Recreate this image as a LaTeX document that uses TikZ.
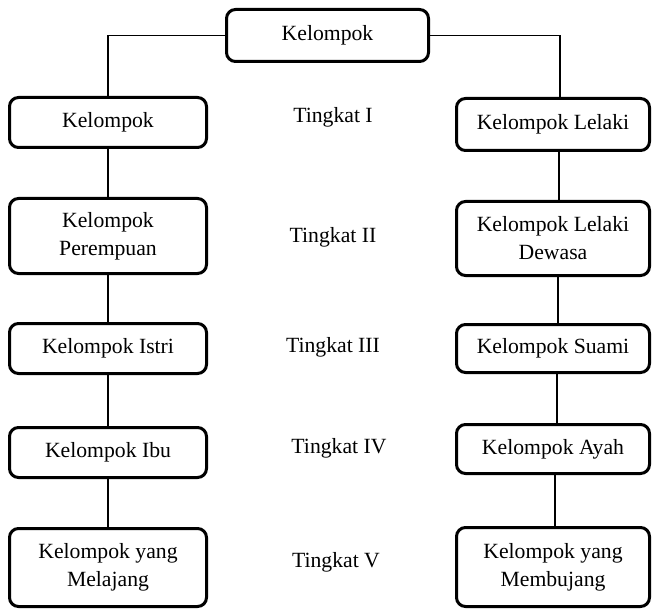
\documentclass[tikz,border=0pt]{standalone}
\usepackage{fontspec}
\setmainfont{Liberation Serif}
\begin{document}
\begin{tikzpicture}[x=1pt,y=-1pt,
  box/.style={draw, line width=3pt, rounded corners=9pt, inner sep=0pt, align=center,
    font=\fontsize{21.7}{28}\selectfont},
  lbl/.style={inner sep=0pt, font=\fontsize{21.7}{28}\selectfont},
  conn/.style={line width=1.2pt}]
\useasboundingbox (0,0) rectangle (652,609);
% top
\node[box, minimum width=202pt, minimum height=52pt] (top) at (327.5,35.5) {Kelompok};
% left column
\node[box, minimum width=197pt, minimum height=50pt] (L1) at (108,122.5) {Kelompok};
\node[box, minimum width=197pt, minimum height=75pt] (L2) at (108,236) {Kelompok\\Perempuan};
\node[box, minimum width=197pt, minimum height=50pt] (L3) at (108,348.5) {Kelompok Istri};
\node[box, minimum width=197pt, minimum height=50pt] (L4) at (108,452.5) {Kelompok Ibu};
\node[box, minimum width=197pt, minimum height=78pt] (L5) at (108,567.5) {Kelompok yang\\Melajang};
% right column
\node[box, minimum width=193pt, minimum height=52pt] (R1) at (553,124.5) {Kelompok Lelaki};
\node[box, minimum width=193pt, minimum height=74pt] (R2) at (553,238.5) {Kelompok Lelaki\\Dewasa};
\node[box, minimum width=193pt, minimum height=48pt] (R3) at (553,348.5) {Kelompok Suami};
\node[box, minimum width=193pt, minimum height=49pt] (R4) at (553,449) {Kelompok Ayah};
\node[box, minimum width=193pt, minimum height=79pt] (R5) at (553,567) {Kelompok yang\\Membujang};
% levels
\node[lbl] (t1) at (333,117) {Tingkat I};
\node[lbl] (t2) at (333,237) {Tingkat II};
\node[lbl] (t3) at (333,347) {Tingkat III};
\node[lbl] (t4) at (339,448) {Tingkat IV};
\node[lbl] (t5) at (336,562) {Tingkat V};
% connectors
\draw[conn] (top.west) -| (L1.north);
\draw[conn] (top.east) -| ([xshift=7pt]R1.north);
\draw[conn] (L1.south) -- (L2.north);
\draw[conn] (L2.south) -- (L3.north);
\draw[conn] (L3.south) -- (L4.north);
\draw[conn] (L4.south) -- (L5.north);
\draw[conn] ([xshift=6pt]R1.south) -- ([xshift=6pt]R2.north);
\draw[conn] ([xshift=5pt]R2.south) -- ([xshift=5pt]R3.north);
\draw[conn] ([xshift=4pt]R3.south) -- ([xshift=4pt]R4.north);
\draw[conn] ([xshift=2pt]R4.south) -- ([xshift=2pt]R5.north);
\end{tikzpicture}
\end{document}
